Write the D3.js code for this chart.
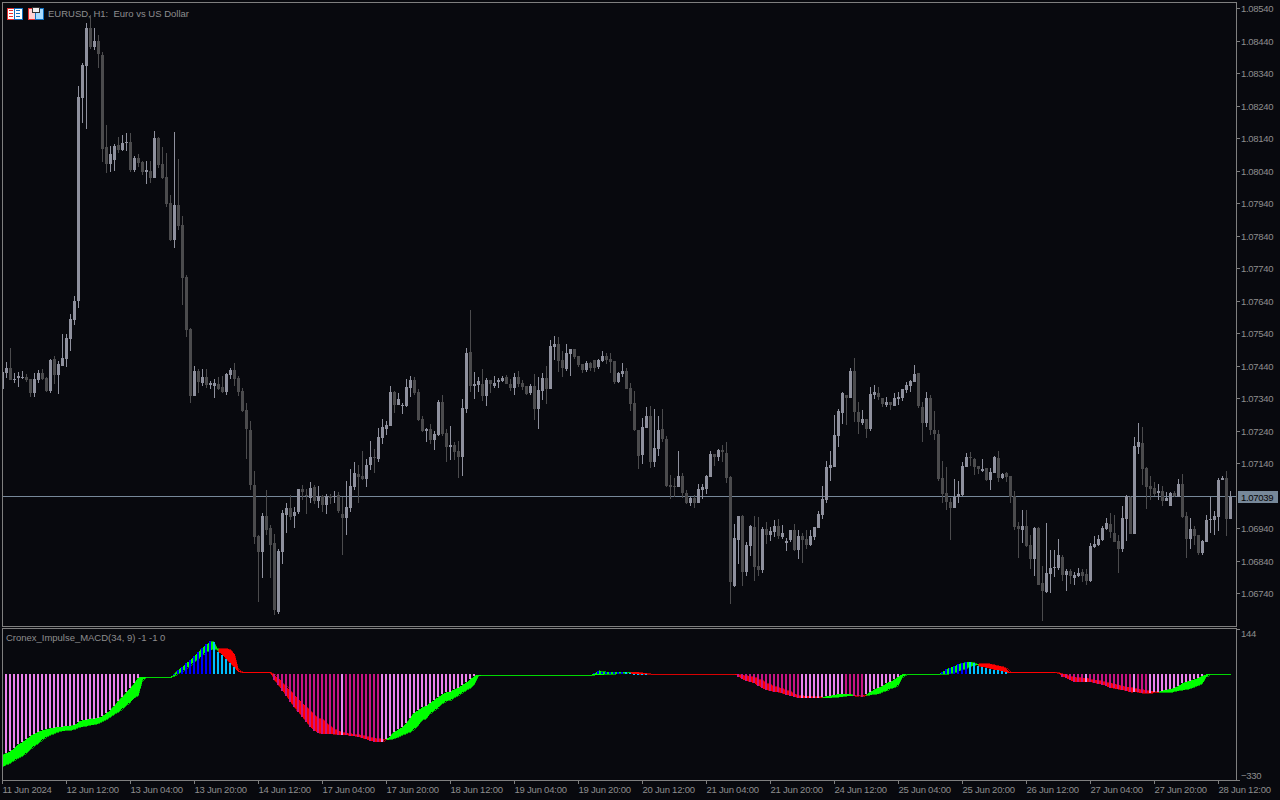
<!DOCTYPE html>
<html><head><meta charset="utf-8">
<script src="https://cdn.jsdelivr.net/npm/d3@7"></script>
<style>
html,body{margin:0;padding:0;background:#08090e;overflow:hidden}
svg{display:block}
text{font-family:"Liberation Sans",Arial,sans-serif;font-size:10px;fill:#8e8e8e}
</style></head><body>
<svg id="c" width="1280" height="800"></svg>
<script>
// Prices are written as the digits after "1.0": 7039 means 1.07039
const opens=[7368,7417,7432,7396,7402,7402,7405,7399,7356,7396,7417,7402,7362,7460,7411,7439,7460,7522,7580,7639,8263,8362,8479,8420,8439,8396,8113,8060,8073,8119,8103,8125,8128,8042,8079,8067,8036,8039,8017,8140,8060,8020,7940,7827,7934,7873,7713,7553,7347,7423,7387,7405,7380,7377,7383,7374,7359,7411,7427,7402,7362,7304,7242,7073,6916,6867,6977,6940,6894,6682,6867,6980,7002,6977,6990,7060,7042,7033,7066,7023,7039,7011,7039,7036,7042,6983,6971,7002,7066,7106,7100,7091,7134,7159,7153,7217,7245,7254,7359,7319,7316,7316,7371,7396,7359,7276,7239,7245,7211,7226,7328,7232,7189,7196,7177,7159,7307,7482,7377,7380,7383,7347,7396,7377,7390,7393,7405,7383,7371,7405,7387,7377,7356,7377,7307,7362,7402,7368,7497,7506,7457,7430,7476,7491,7469,7445,7427,7448,7457,7436,7454,7469,7460,7454,7390,7414,7423,7371,7325,7242,7165,7248,7285,7143,7183,7245,7214,7073,7070,7066,7100,7048,7017,7033,7017,7057,7060,7097,7168,7159,7180,7171,7097,6762,6903,6977,6805,6885,6943,6823,6811,6937,6919,6928,6946,6913,6894,6903,6934,6873,6916,6906,6888,6913,6940,6980,7027,7125,7128,7223,7294,7350,7340,7423,7297,7263,7276,7245,7350,7356,7340,7319,7328,7316,7337,7340,7365,7377,7390,7417,7313,7263,7340,7242,7229,7094,7048,7020,7002,7036,7042,7128,7159,7153,7131,7116,7125,7088,7109,7156,7094,7109,7100,7039,6946,6934,6946,6888,6845,6940,6771,6743,6799,6817,6817,6851,6796,6808,6786,6793,6805,6799,6777,6882,6888,6903,6937,6953,6925,6900,6876,6968,7036,6922,7189,7202,7125,7070,7063,7048,7054,7023,7008,7048,7036,7076,6977,6906,6937,6919,6863,6897,6965,6965,6974,7088,7094,6968];
const highs=[7420,7451,7494,7417,7420,7423,7414,7399,7417,7427,7430,7405,7460,7469,7454,7537,7537,7599,7654,8300,8371,8494,8519,8479,8457,8405,8180,8116,8122,8143,8150,8156,8156,8085,8091,8070,8070,8070,8162,8143,8113,8094,7965,8159,8076,7900,7719,7556,7439,7430,7430,7430,7393,7399,7405,7408,7417,7433,7448,7408,7371,7325,7270,7116,6919,6986,7057,6950,6922,6876,6996,7017,7042,7005,7060,7073,7060,7082,7073,7070,7042,7045,7045,7054,7051,7036,7085,7122,7143,7134,7177,7153,7208,7183,7248,7276,7270,7377,7362,7356,7325,7399,7408,7405,7368,7285,7248,7260,7239,7334,7350,7245,7254,7205,7208,7337,7494,7611,7420,7405,7430,7402,7396,7408,7402,7408,7411,7399,7417,7423,7396,7377,7383,7414,7405,7417,7439,7519,7531,7528,7485,7506,7491,7491,7469,7445,7454,7451,7457,7460,7485,7479,7479,7454,7420,7448,7433,7387,7362,7242,7279,7313,7316,7307,7285,7307,7223,7103,7094,7177,7109,7057,7036,7042,7076,7076,7103,7177,7168,7183,7196,7205,7100,6953,6977,6980,6897,6950,6977,6974,6943,6959,6943,6965,6968,6950,6910,6934,6953,6934,6925,6934,6934,6943,6993,7070,7147,7177,7288,7307,7359,7350,7433,7463,7328,7304,7276,7374,7380,7374,7340,7343,7328,7356,7359,7368,7390,7396,7442,7417,7328,7359,7350,7300,7242,7147,7128,7033,7091,7085,7143,7171,7174,7156,7131,7153,7125,7125,7162,7177,7109,7113,7100,7054,6959,6996,6996,6919,6943,6943,6823,6956,6873,6873,6906,6857,6814,6814,6805,6817,6814,6814,6894,6916,6919,6946,6971,6986,6980,6919,7008,7042,7039,7220,7263,7251,7128,7100,7082,7076,7070,7051,7051,7054,7091,7106,6990,6971,6946,6919,6903,6980,7036,6993,7094,7100,7116,7054];
const lows=[7368,7402,7396,7387,7374,7399,7390,7343,7343,7387,7396,7359,7356,7383,7353,7439,7436,7485,7565,7617,8186,8168,8414,8411,8356,8067,8033,8036,8039,8094,8100,8100,8036,8036,8051,8026,7999,8002,8017,8048,8014,7928,7823,7802,7857,7627,7528,7325,7347,7356,7377,7371,7368,7340,7365,7356,7350,7399,7377,7347,7297,7153,7057,6891,6713,6787,6919,6787,6673,6676,6830,6925,6965,6940,6983,7027,6983,7017,7014,7002,6990,6983,7014,7017,6986,6857,6919,6990,7057,7017,7088,7066,7119,7109,7143,7199,7226,7254,7294,7319,7291,7313,7343,7350,7270,7236,7205,7199,7180,7223,7223,7143,7150,7150,7094,7100,7294,7359,7337,7359,7331,7316,7356,7371,7371,7390,7383,7362,7350,7374,7365,7350,7350,7273,7245,7334,7322,7368,7457,7420,7405,7423,7408,7460,7436,7417,7420,7423,7420,7430,7451,7445,7417,7383,7387,7405,7368,7300,7239,7122,7137,7248,7125,7128,7162,7205,7066,7030,7036,7066,7033,7014,7008,7002,7017,7030,7045,7097,7131,7147,7143,7079,6707,6759,6830,6762,6793,6854,6777,6793,6802,6891,6900,6913,6906,6906,6870,6897,6870,6845,6833,6876,6885,6903,6940,6968,7017,7085,7128,7189,7260,7257,7340,7266,7229,7257,7217,7239,7337,7334,7313,7313,7304,7316,7319,7331,7356,7359,7390,7310,7205,7251,7226,7211,7085,7017,6996,6903,7002,7017,7039,7128,7131,7103,7106,7113,7085,7057,7109,7082,7091,7082,7017,6934,6848,6894,6882,6814,6793,6765,6654,6740,6740,6790,6811,6777,6747,6768,6765,6790,6774,6765,6774,6879,6885,6900,6934,6910,6897,6802,6867,6900,6922,6922,7168,7073,6999,7027,7039,7027,7008,7023,7008,7036,7036,6971,6848,6876,6888,6857,6857,6897,6925,6919,6931,7088,6916,6968];
const closes=[7420,7432,7396,7399,7408,7405,7396,7356,7399,7417,7399,7362,7457,7411,7445,7463,7525,7583,7639,8266,8365,8479,8420,8439,8399,8107,8060,8091,8116,8103,8125,8128,8042,8079,8063,8036,8042,8017,8140,8057,8017,7937,7827,7934,7870,7710,7550,7347,7423,7390,7405,7380,7387,7387,7368,7359,7414,7427,7399,7359,7300,7245,7073,6913,6867,6977,6934,6888,6688,6870,6986,7002,6974,6990,7060,7051,7039,7063,7023,7039,7011,7039,7033,7039,6993,6971,7005,7070,7109,7097,7091,7134,7159,7156,7220,7251,7257,7359,7319,7337,7319,7374,7396,7356,7273,7239,7245,7211,7229,7328,7229,7189,7196,7174,7159,7310,7479,7377,7383,7393,7347,7396,7383,7387,7396,7402,7383,7371,7405,7383,7374,7353,7377,7307,7365,7402,7368,7500,7506,7454,7432,7479,7491,7467,7442,7427,7448,7433,7433,7457,7469,7457,7451,7390,7417,7423,7368,7322,7242,7162,7251,7285,7143,7187,7242,7214,7070,7066,7066,7100,7048,7017,7033,7017,7060,7066,7100,7168,7159,7180,7174,7094,6774,6910,6977,6805,6888,6947,6820,6811,6937,6919,6931,6946,6916,6925,6900,6934,6873,6916,6903,6888,6916,6943,6983,7030,7128,7134,7226,7300,7356,7340,7423,7297,7266,7276,7245,7353,7359,7343,7322,7328,7319,7340,7343,7368,7380,7393,7414,7316,7263,7340,7242,7229,7091,7045,7020,7002,7036,7045,7131,7159,7156,7128,7122,7122,7088,7113,7159,7094,7106,7097,7036,6943,6937,6946,6885,6845,6940,6765,6747,6802,6817,6820,6857,6796,6808,6793,6796,6802,6793,6777,6885,6891,6906,6940,6956,6928,6897,6876,6971,7039,6922,7193,7205,7122,7066,7060,7045,7054,7023,7033,7048,7039,7076,6974,6906,6937,6916,6863,6900,6965,6968,6977,7088,7094,6968,7036];
const currentPrice=7039;
const priceTicks=[8540,8440,8340,8240,8140,8040,7940,7840,7740,7640,7540,7440,7340,7240,7140,6940,6840,6740];
const timeLabels=["11 Jun 2024","12 Jun 12:00","13 Jun 04:00","13 Jun 20:00","14 Jun 12:00","17 Jun 04:00","17 Jun 20:00","18 Jun 12:00","19 Jun 04:00","19 Jun 20:00","20 Jun 12:00","21 Jun 04:00","21 Jun 20:00","24 Jun 12:00","25 Jun 04:00","25 Jun 20:00","26 Jun 12:00","27 Jun 04:00","27 Jun 20:00","28 Jun 12:00"];
const barsPerLabel=16;
const macdValues=[-251,-246,-239,-230,-218,-211,-202,-191,-184,-178,-174,-171,-168,-165,-164,-162,-161,-160,-158,-147,-142,-140,-138,-137,-135,-129,-120,-110,-97,-81,-68,-55,-42,-26,-8,-7,-7,-7,-7,-7,-7,-7,-7,3,16,26,37,47,58,71,86,96,106,102,72,63,50,37,24,10,7,7,7,7,7,7,7,7,-16,-31,-49,-65,-84,-99,-115,-131,-147,-162,-175,-183,-184,-184,-185,-186,-187,-187,-188,-190,-192,-194,-198,-202,-206,-209,-210,-210,-201,-192,-178,-171,-164,-152,-134,-118,-110,-102,-96,-87,-79,-68,-61,-55,-52,-45,-40,-31,-23,-14,-2,-1,-1,-1,-1,-1,-1,-1,-1,-1,-1,-1,-1,-1,-1,-1,-1,-1,-1,-1,-1,-1,-1,-1,-1,-1,-1,-1,-1,-1,5,13,10,9,9,9,9,8,8,5,4,3,2,2,2,2,2,2,2,2,2,2,2,2,2,2,2,2,2,2,2,2,2,2,2,2,-5,-14,-18,-22,-26,-34,-42,-47,-50,-52,-54,-58,-62,-65,-69,-71,-71,-71,-71,-71,-71,-70,-67,-65,-63,-60,-60,-61,-60,-67,-66,-69,-60,-53,-45,-40,-35,-26,-21,-14,-5,2,2,2,2,2,2,2,2,2,2,10,18,23,28,34,37,40,40,37,28,26,23,20,17,15,12,8,7,7,7,7,7,7,7,7,7,7,7,7,5,-5,-10,-16,-22,-22,-22,-21,-22,-25,-27,-30,-35,-40,-42,-45,-47,-50,-54,-52,-55,-58,-58,-58,-55,-53,-49,-47,-45,-40,-35,-26,-22,-18,-14,-9,-3,2,2,2,2,2,2,2];
const signalValues=[-288,-281,-275,-267,-260,-253,-244,-232,-222,-213,-202,-194,-188,-183,-178,-175,-174,-173,-170,-164,-162,-160,-157,-155,-152,-146,-139,-131,-122,-115,-105,-94,-84,-71,-63,-16,-7,-7,-7,-7,-7,-7,-7,-2,5,12,21,31,42,50,63,73,79,81,82,82,82,79,65,16,8,8,8,8,8,8,8,8,0,-10,-24,-37,-49,-63,-76,-89,-102,-112,-126,-138,-136,-152,-162,-171,-176,-180,-183,-185,-187,-188,-190,-194,-196,-199,-200,-202,-204,-202,-199,-194,-188,-183,-178,-168,-157,-141,-136,-120,-110,-102,-89,-81,-79,-70,-63,-55,-47,-40,-28,-3,-1,-1,-1,-1,-1,-1,-1,-1,-1,-1,-1,-1,-1,-1,-1,-1,-1,-1,-1,-1,-1,-1,-1,-1,-1,-1,-1,-1,0,1,1,2,2,3,5,5,6,8,8,8,6,5,3,3,3,3,3,3,3,3,3,3,3,3,3,3,3,3,3,3,3,3,3,3,1,-1,-3,-5,-8,-13,-18,-26,-31,-37,-40,-44,-49,-53,-60,-64,-66,-67,-68,-69,-68,-72,-72,-71,-70,-69,-68,-66,-65,-64,-65,-64,-65,-62,-60,-59,-52,-49,-42,-39,-31,-7,2,2,2,2,2,2,2,2,2,2,2,5,7,13,16,21,28,31,35,35,35,34,31,28,26,19,8,8,8,8,8,8,8,8,8,8,8,8,7,3,0,-5,-7,-9,-10,-10,-14,-16,-18,-21,-23,-26,-29,-32,-35,-38,-40,-42,-45,-47,-49,-51,-52,-55,-55,-55,-55,-51,-49,-47,-45,-42,-37,-32,-26,-5,2,2,2,2,2,2,2];
// Histogram runs: first bar, last bar, colour state (bar height is the MACD value)
const histRuns=[[0,34,"fallUp"],[43,52,"riseHi"],[53,58,"fallHi"],[68,84,"fallLo"],[85,85,"fallUp"],[86,94,"fallLo"],[95,118,"fallUp"],[148,155,"riseHi"],[156,161,"fallHi"],[184,199,"fallLo"],[200,210,"fallUp"],[211,215,"fallLo"],[216,224,"fallUp"],[235,241,"riseHi"],[242,251,"fallHi"],[265,270,"fallLo"],[271,271,"fallUp"],[272,282,"fallLo"],[283,283,"fallUp"],[284,286,"fallLo"],[287,300,"fallUp"]];
const histColors={fallUp:"#ee82ee",fallLo:"#c71585",riseHi:"#0000ff",fallHi:"#00bfff"};
const subTicks=[144,-330];
const title="EURUSD, H1:  Euro vs US Dollar";
const subTitle="Cronex_Impulse_MACD(34, 9) -1 -1 0";

const price=v=>1+v/1e5;
const upColor="#8f919e",downColor="#4b4b4d",frame="#7f7f7f",lineColor="#778899";
const svg=d3.select("#c");
const x=d3.scaleLinear().domain([0,opens.length-1]).range([2,1230]);
const y=d3.scaleLinear().domain([price(8540),price(6740)]).range([8.1,593.1]);
const ry=v=>Math.round(y(price(v)));
const sy=d3.scaleLinear().domain([144,-330]).range([629.1,780.1]);
const crisp=g=>g.attr("shape-rendering","crispEdges");

const defs=svg.append("defs");
defs.append("clipPath").attr("id","pane").append("rect").attr("x",3).attr("y",3).attr("width",1233).attr("height",623);
defs.append("clipPath").attr("id","sub").append("rect").attr("x",3).attr("y",630).attr("width",1233).attr("height",150);

// price pane
const pane=crisp(svg.append("g").attr("clip-path","url(#pane)"));
pane.append("line").attr("x1",3).attr("x2",1236).attr("y1",ry(currentPrice)+.5).attr("y2",ry(currentPrice)+.5).attr("stroke",lineColor);
const idx=d3.range(opens.length);
const col=i=>closes[i]>=opens[i]?upColor:downColor;
pane.selectAll(".w").data(idx).join("rect").attr("x",x).attr("width",1)
  .attr("y",i=>ry(highs[i])).attr("height",i=>Math.max(1,ry(lows[i])-ry(highs[i]))).attr("fill",col);
pane.selectAll(".b").data(idx).join("rect").attr("x",i=>x(i)-1).attr("width",3)
  .attr("y",i=>ry(Math.max(opens[i],closes[i]))).attr("height",i=>Math.max(1,ry(Math.min(opens[i],closes[i]))-ry(Math.max(opens[i],closes[i])))).attr("fill",col);

// indicator pane
const sub=crisp(svg.append("g").attr("clip-path","url(#sub)"));
const area=d3.area().x(i=>x(i)+.5).y0(i=>sy(macdValues[i])).y1(i=>sy(signalValues[i]));
idx.slice(0,-1).forEach(i=>{
  const c=macdValues[i]>=signalValues[i]?"#00ff00":"#ff0000";
  sub.append("path").attr("d",area([i,i+1])).attr("fill",c).attr("stroke",c).attr("stroke-width",.6);
});
const y0=Math.round(sy(0));
histRuns.forEach(([a,b,k])=>{
  d3.range(a,b+1).forEach(i=>{
    const v=sy(macdValues[i]);
    const top=Math.round(Math.min(v,y0-1)), bot=Math.round(Math.max(v,y0-1));
    sub.append("rect").attr("x",x(i)-1).attr("width",2).attr("y",top).attr("height",Math.max(1,bot-top)).attr("fill",histColors[k]);
  });
});

// frames
const fr=crisp(svg.append("g").attr("fill","none").attr("stroke",frame));
fr.append("rect").attr("x",2.5).attr("y",2.5).attr("width",1234).attr("height",624);
fr.append("rect").attr("x",2.5).attr("y",628.5).attr("width",1234).attr("height",151.5);

// axes
const priceAxis=d3.axisRight(y).tickValues(priceTicks.map(price)).tickSize(4).tickFormat(d3.format(".5f"));
const ga=svg.append("g").attr("transform","translate(1236,0)").call(priceAxis);
ga.select(".domain").remove();
ga.selectAll("line").attr("stroke",frame).attr("shape-rendering","crispEdges");
ga.selectAll("text").attr("x",5).attr("y",0.8).attr("fill",null).style("font-size","9.5px").style("letter-spacing","-0.3px");
const subAxis=d3.axisRight(sy).tickValues(subTicks).tickSize(4).tickFormat(d3.format("d"));
const gs=svg.append("g").attr("transform","translate(1236,0)").call(subAxis);
gs.select(".domain").remove();
gs.selectAll("line").attr("stroke",frame).attr("shape-rendering","crispEdges");
gs.selectAll("text").attr("x",5).attr("fill",null).attr("dy",d=>d>0?"0.75em":"-0.2em").style("font-size","9.5px").style("letter-spacing","-0.3px");
const timeAxis=d3.axisBottom(x).tickValues(timeLabels.map((_,k)=>k*barsPerLabel)).tickSize(4).tickFormat((_,k)=>timeLabels[k]);
const gt=svg.append("g").attr("transform","translate(0,780)").call(timeAxis);
gt.select(".domain").remove();
gt.selectAll("line").attr("stroke",frame).attr("shape-rendering","crispEdges");
gt.selectAll("text").attr("fill",null).attr("text-anchor","start").attr("x",0).attr("y",5.5).attr("dy","0.75em").style("font-size","9.5px").style("letter-spacing","-0.22px");

// current price tag
svg.append("rect").attr("x",1238).attr("y",491).attr("width",40).attr("height",12).attr("fill",lineColor).attr("shape-rendering","crispEdges");
svg.append("text").attr("x",1241).attr("y",500.5).text(d3.format(".5f")(price(currentPrice))).style("fill","#050505").style("font-size","9.5px").style("letter-spacing","-0.3px");

// titles
svg.append("text").attr("x",48).attr("y",17).text(title).attr("xml:space","preserve").style("font-size","9.5px");
svg.append("text").attr("x",6).attr("y",641).text(subTitle).style("font-size","9.5px").style("letter-spacing","-0.02px");

// small header icons
function icon(x0,kind){
  const g=crisp(svg.append("g"));
  g.append("rect").attr("x",x0).attr("y",8).attr("width",8).attr("height",11).attr("fill",kind?"#ffd0d0":"#fff").attr("stroke","#e53030").attr("stroke-width",1);
  g.append("rect").attr("x",x0+7).attr("y",8).attr("width",8).attr("height",11).attr("fill",kind?"#a8dcff":"#fff").attr("stroke","#1070c0").attr("stroke-width",1);
  if(kind){ g.append("rect").attr("x",x0+4).attr("y",7).attr("width",7).attr("height",5).attr("fill","#f0f0f0").attr("stroke","#333"); }
  else { [10.5,13.5,16.5].forEach(v=>{
    g.append("rect").attr("x",x0+2).attr("y",v-.5).attr("width",4).attr("height",1).attr("fill","#e53030");
    g.append("rect").attr("x",x0+9).attr("y",v-.5).attr("width",4).attr("height",1).attr("fill","#1070c0");
  }); }
}
icon(7,0);icon(28,1);
</script>
</body></html>
